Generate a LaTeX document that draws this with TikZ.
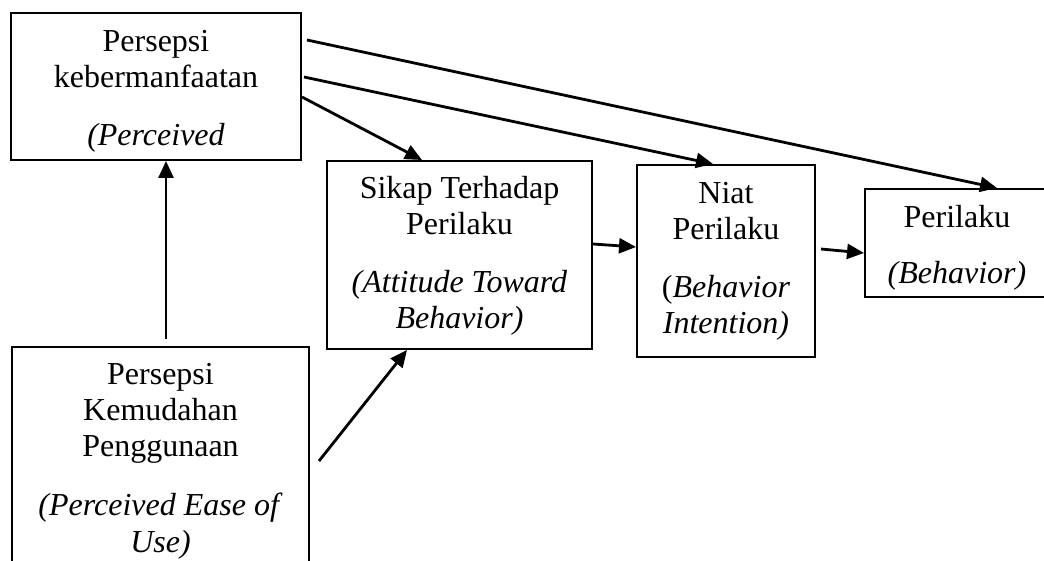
\documentclass[tikz,border=0pt]{standalone}
\usepackage{fontspec}
\setmainfont{Liberation Serif}
\usetikzlibrary{shapes, arrows.meta}
\tikzstyle{box} = [rectangle, draw=black, line width=1pt, inner sep=0pt]
\tikzstyle{txt} = [anchor=base, inner sep=0pt, align=flush center, font=\fontsize{16}{18}\selectfont]
\tikzstyle{arrow} = [line width=1.4pt, -{Triangle[length=8.5pt, width=7.5pt]}]

\begin{document}
\begin{tikzpicture}[x=0.5pt, y=-0.5pt]
\useasboundingbox (0,0) rectangle (1044,561);
\node[box, minimum width=145pt, minimum height=73.5pt] (pu) at (156,86.5) {};
\node[box, minimum width=148.5pt, minimum height=130pt] (peou) at (160.5,477) {};
\node[box, minimum width=132.5pt, minimum height=94pt] (sikap) at (459.5,255) {};
\node[box, minimum width=89pt, minimum height=96pt] (niat) at (726,261) {};
\node[box, minimum width=92pt, minimum height=54pt] (perilaku) at (957,243) {};

\node[txt, text width=140pt] (putxt) at ([yshift=-20pt]pu.north) {Persepsi\\kebermanfaatan\\[11pt]\textit{(Perceived}};
\node[txt, text width=146pt] (peoutxt) at ([yshift=-19pt]peou.north) {Persepsi\\Kemudahan\\Penggunaan\\[12pt]\textit{(Perceived Ease of}\\\textit{Use)}};
\node[txt, text width=130pt] (sikaptxt) at ([yshift=-19.5pt]sikap.north) {Sikap Terhadap\\Perilaku\\[11pt]\textit{(Attitude Toward}\\\textit{Behavior)}};
\node[txt, text width=87pt] (niattxt) at ([yshift=-20pt]niat.north) {Niat\\Perilaku\\[11pt](\textit{Behavior}\\\textit{Intention)}};
\node[txt, text width=90pt] (perilakutxt) at ([yshift=-20pt]perilaku.north) {Perilaku\\[10pt]\textit{(Behavior)}};

\draw[arrow] ([xshift=2.75pt, yshift=3.5pt]peou.north) -- ([xshift=5pt]pu.south);
\draw[arrow] ([xshift=4.5pt, yshift=-57.5pt]peou.north east) -- ([xshift=-26.25pt]sikap.south);
\draw[arrow] ([yshift=-5.25pt]pu.east) -- ([xshift=-18.75pt]sikap.north);
\draw[arrow] ([xshift=1pt, yshift=4.75pt]pu.east) -- ([xshift=-6.5pt]niat.north);
\draw[arrow] ([xshift=2.5pt, yshift=23.25pt]pu.east) -- ([xshift=20pt]perilaku.north);
\draw[arrow] ([yshift=5.5pt]sikap.east) -- ([yshift=7pt]niat.west);
\draw[arrow] ([xshift=2.5pt, yshift=6pt]niat.east) -- ([yshift=-5pt]perilaku.west);
\end{tikzpicture}
\end{document}
